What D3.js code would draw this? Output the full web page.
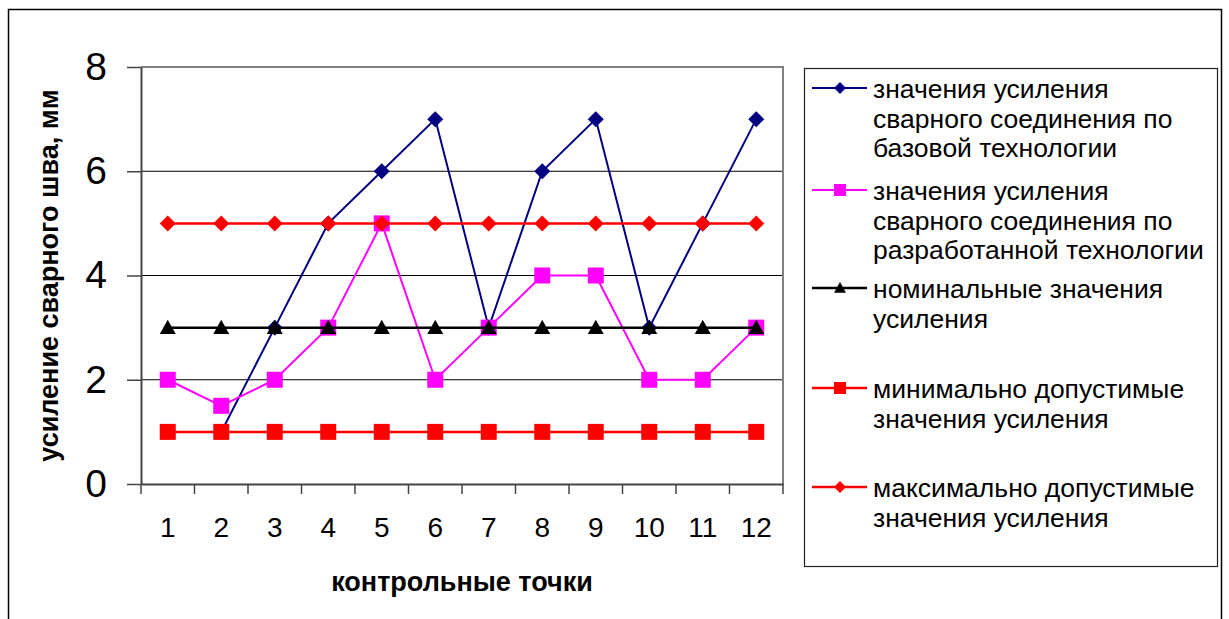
<!DOCTYPE html>
<html>
<head>
<meta charset="utf-8">
<script src="https://cdn.jsdelivr.net/npm/d3@7"></script>
<style>
  html, body { margin: 0; padding: 0; background: #fff; }
  svg { display: block; font-family: "Liberation Sans", Arial, sans-serif; }
</style>
</head>
<body>
<svg id="chart" width="1229" height="619"></svg>
<script>
// Control points along the weld
const categories = ["1", "2", "3", "4", "5", "6", "7", "8", "9", "10", "11", "12"];

// Weld reinforcement, mm
const baseTech = [1, 1, 3, 5, 6, 7, 3, 6, 7, 3, 5, 7];
const newTech = [2, 1.5, 2, 3, 5, 2, 3, 4, 4, 2, 2, 3];
const nominal = [3, 3, 3, 3, 3, 3, 3, 3, 3, 3, 3, 3];
const minAllowed = [1, 1, 1, 1, 1, 1, 1, 1, 1, 1, 1, 1];
const maxAllowed = [5, 5, 5, 5, 5, 5, 5, 5, 5, 5, 5, 5];

const yTicks = [0, 2, 4, 6, 8];

const seriesNames = [
  ["значения усиления", "сварного соединения по", "базовой технологии"],
  ["значения усиления", "сварного соединения по", "разработанной технологии"],
  ["номинальные значения", "усиления"],
  ["минимально допустимые", "значения усиления"],
  ["максимально допустимые", "значения усиления"]
];

const series = [
  { values: baseTech, color: "#000080", width: 2, marker: "diamond", size: 16 },
  { values: newTech, color: "#ff00ff", width: 2, marker: "square", size: 16 },
  { values: nominal, color: "#000000", width: 2.5, marker: "triangle", size: 16 },
  { values: minAllowed, color: "#ff0000", width: 2.5, marker: "square", size: 16 },
  { values: maxAllowed, color: "#ff0000", width: 2.5, marker: "diamond", size: 16 }
];

const svg = d3.select("#chart");

// Outer chart frame
svg.append("rect")
  .attr("x", 8.5).attr("y", 9.5)
  .attr("width", 1213).attr("height", 630)
  .attr("fill", "none").attr("stroke", "#000").attr("stroke-width", 1.5);

const plot = { left: 141, right: 783, top: 67, bottom: 484 };

const x = d3.scaleBand().domain(categories).range([plot.left, plot.right]);
const y = d3.scaleLinear().domain([0, 8]).range([plot.bottom, plot.top]);

// Horizontal gridlines
svg.append("g")
  .selectAll("line")
  .data(yTicks.filter(t => t > 0 && t < 8))
  .join("line")
  .attr("x1", plot.left).attr("x2", plot.right)
  .attr("y1", d => y(d)).attr("y2", d => y(d))
  .attr("stroke", "#000").attr("stroke-width", 1);

// Plot area border (top and right)
svg.append("path")
  .attr("d", `M${plot.left},${plot.top}H${plot.right}V${plot.bottom}`)
  .attr("fill", "none").attr("stroke", "#808080").attr("stroke-width", 2);

// Y axis
const yAxis = svg.append("g")
  .attr("transform", `translate(${plot.left},0)`)
  .call(d3.axisLeft(y).tickValues(yTicks).tickSize(14).tickPadding(20).tickSizeOuter(0));
yAxis.select(".domain").attr("stroke", "#444").attr("stroke-width", 2);
yAxis.selectAll(".tick line").attr("stroke", "#444").attr("stroke-width", 1.5);
yAxis.selectAll(".tick text")
  .attr("font-size", 39).attr("fill", "#000")
  .attr("font-family", "'Liberation Sans', Arial, sans-serif");

// X axis: labels at band centres, tick marks at band edges
const xAxis = svg.append("g")
  .attr("transform", `translate(0,${plot.bottom})`)
  .call(d3.axisBottom(x).tickSize(0).tickPadding(33).tickSizeOuter(0));
xAxis.select(".domain").attr("stroke", "#444").attr("stroke-width", 2);
xAxis.selectAll(".tick text")
  .attr("font-size", 28).attr("fill", "#000")
  .attr("font-family", "'Liberation Sans', Arial, sans-serif");

const edges = categories.map(c => x(c)).concat([x(categories[categories.length - 1]) + x.bandwidth()]);
svg.append("g")
  .selectAll("line")
  .data(edges)
  .join("line")
  .attr("x1", d => d).attr("x2", d => d)
  .attr("y1", plot.bottom).attr("y2", plot.bottom + 10)
  .attr("stroke", "#444").attr("stroke-width", 1.5);

// Axis titles
svg.append("text")
  .attr("x", 462).attr("y", 591)
  .attr("text-anchor", "middle")
  .attr("font-size", 27).attr("font-weight", "bold")
  .text("контрольные точки");

svg.append("text")
  .attr("transform", `translate(58,${(plot.top + plot.bottom) / 2}) rotate(-90)`)
  .attr("text-anchor", "middle")
  .attr("font-size", 27).attr("font-weight", "bold")
  .text("усиление сварного шва, мм");

// Marker shapes
function markerPath(type, s) {
  const h = s / 2;
  if (type === "diamond") return `M0,${-h}L${h},0L0,${h}L${-h},0Z`;
  if (type === "square") return `M${-h},${-h}H${h}V${h}H${-h}Z`;
  // triangle
  return `M0,${-h}L${h},${h * 0.8}H${-h}Z`;
}

const cx = c => x(c) + x.bandwidth() / 2;
const line = d3.line().x((d, i) => cx(categories[i])).y(d => y(d));

series.forEach(s => {
  const g = svg.append("g");
  g.append("path")
    .attr("d", line(s.values))
    .attr("fill", "none").attr("stroke", s.color).attr("stroke-width", s.width);
  g.selectAll("path.mk")
    .data(s.values)
    .join("path")
    .attr("class", "mk")
    .attr("d", markerPath(s.marker, s.size))
    .attr("transform", (d, i) => `translate(${cx(categories[i])},${y(d)})`)
    .attr("fill", s.color);
});

// Legend
const legend = { x: 804, y: 68, w: 413, h: 498 };
svg.append("rect")
  .attr("x", legend.x + 0.5).attr("y", legend.y + 0.5)
  .attr("width", legend.w).attr("height", legend.h)
  .attr("fill", "#fff").attr("stroke", "#222").attr("stroke-width", 1.2);

const legendY = [88, 190, 288, 388, 487];
series.forEach((s, i) => {
  const g = svg.append("g").attr("transform", `translate(0,${legendY[i]})`);
  g.append("line")
    .attr("x1", 812).attr("x2", 867)
    .attr("y1", 0).attr("y2", 0)
    .attr("stroke", s.color).attr("stroke-width", s.width);
  g.append("path")
    .attr("d", markerPath(s.marker, 12))
    .attr("transform", "translate(840,0)")
    .attr("fill", s.color);
  const t = g.append("text")
    .attr("x", 873).attr("y", 10)
    .attr("font-size", 26.5).attr("fill", "#000");
  seriesNames[i].forEach((ln, j) => {
    t.append("tspan").attr("x", 873).attr("dy", j === 0 ? 0 : 29.5).text(ln);
  });
});
</script>
</body>
</html>
